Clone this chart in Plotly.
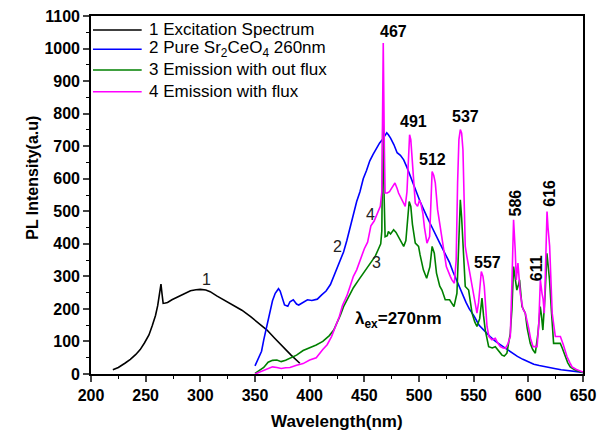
import plotly.graph_objects as go

# ---- data ----
# 1 Excitation spectrum (black)
x1 = [220, 225, 231, 236, 241, 245, 249, 253, 256, 259, 261, 262.5, 264, 265, 266, 268, 270, 274, 279,
      285, 291, 296, 300, 305, 309, 315, 322, 330, 338, 346, 353, 361, 368, 376, 383, 391]
y1 = [13, 20, 33, 45, 60, 75, 96, 120, 148, 180, 210, 240, 276, 245, 217, 218, 220, 228, 236,
      247, 256, 259, 260, 258, 253, 240, 226, 212, 196, 176, 158, 135, 110, 82, 58, 33]

# 2 Pure Sr2CeO4 260nm (blue)
x2 = [350, 353, 356, 358, 361, 364, 366, 368.5, 371.5, 373, 374.7, 377, 380, 382, 385, 388, 390, 394, 398,
      402, 407, 411, 415, 419, 422, 425, 428, 431, 434, 437, 440, 443, 446, 449, 452, 455, 458, 461, 464,
      466, 468, 470.5, 472, 474, 477, 480, 483, 486, 489, 492, 495, 498, 501, 504, 507, 510, 513, 516, 519,
      522, 525, 528, 531, 534, 537, 540, 543, 546, 550, 555, 560, 565, 570, 575, 580, 585, 590, 595, 600,
      605, 610, 615, 620, 625, 630, 635, 640, 645, 650]
y2 = [25, 45, 70, 105, 150, 200, 225, 248, 262, 255, 235, 212, 208, 222, 228, 215, 212, 220, 228,
      226, 230, 243, 255, 275, 300, 322, 350, 375, 410, 450, 495, 530, 560, 600, 625, 655, 675, 695, 710,
      718, 730, 741, 735, 725, 705, 680, 672, 658, 635, 607, 580, 556, 530, 505, 485, 464, 442, 422, 402,
      382, 362, 342, 315, 290, 265, 240, 220, 200, 180, 150, 132, 115, 100, 88, 76, 65, 54, 45, 38,
      30, 26, 22, 19, 16, 13, 11, 9, 7, 5]

# 3 Emission without flux (green)
x3 = [350, 354, 358, 362, 366, 370, 374, 378, 382, 388, 394, 400, 406, 412, 418, 422, 425, 428, 431, 435,
      440, 445, 450, 455, 460, 463, 465, 466, 467, 468, 469, 471, 472, 474, 476.8, 479, 482, 486, 488, 489,
      491, 492.5, 494, 496.6, 499.6, 501, 504, 507, 510, 512, 514, 516, 519, 521, 524, 528, 530, 532, 534.7,
      536, 537.8, 539, 540.2, 542.3, 545.4, 548.5, 551, 553, 555.5, 557.6, 559, 560.6, 563.7, 567, 569.8,
      573, 575.9, 578, 580.4, 583.5, 585, 586.5, 588, 589.5, 591, 592, 594.2, 597.2, 599, 601.8, 604, 606.4,
      608.8, 610.9, 612, 613.3, 615.4, 617, 618.5, 619.4, 621, 623.1, 626, 629.2, 631, 633.8, 636, 638.3,
      642, 647.4, 650]
y3 = [2, 10, 20, 36, 42, 43, 38, 42, 48, 58, 72, 80, 89, 100, 118, 135, 155, 180, 207, 235,
      265, 290, 315, 340, 362, 385, 400, 440, 797, 560, 422, 425, 438, 430, 443, 435, 415, 392, 410, 453,
      530, 515, 460, 402, 392, 366, 320, 294, 330, 392, 371, 310, 270, 258, 228, 228, 215, 207, 248,
      400, 535, 480, 412, 269, 258, 187, 160, 146, 170, 233, 180, 135, 84, 80, 84,
      70, 58, 55, 64, 125, 200, 330, 290, 258, 275, 289, 207, 187, 140, 94, 75, 64,
      125, 207, 180, 135, 248, 371, 320, 289, 200, 94, 94, 94, 80, 53, 35, 22,
      14, 7, 5]

# 4 Emission with flux (magenta)
x4 = [350, 354, 358, 362, 366, 370, 374, 378, 382, 388, 394, 400, 406, 412, 416, 420, 424, 427, 430, 434,
      437, 440, 443, 446, 450, 453, 456, 459, 462, 464.6, 466, 467.3, 468.3, 469, 471, 473, 475, 478, 480,
      481.3, 484.4, 487.4, 489, 490.5, 491.4, 492.5, 494.4, 496.6, 498.7, 500.5, 502, 503.5, 505, 507.3,
      509.7, 511, 512, 513.5, 514.9, 517, 519, 521, 523, 525, 528.6, 530, 532.3, 534, 535.3, 536.5, 537.8,
      539, 540.2, 541.5, 542.3, 543.8, 546.3, 549.9, 553, 554.5, 555.5, 557, 558.5, 559.7, 562.2, 564,
      566.7, 569.8, 572, 574.4, 577, 579, 581, 583.5, 585, 586.5, 588, 589, 590.5, 591.5, 592.6, 595, 597.2,
      600.3, 602, 604.3, 608, 609.5, 611, 612.5, 613.5, 614.6, 616, 617.1, 618, 619.5, 621.8, 624.7, 627,
      629.3, 632, 635.4, 638, 640, 644, 649, 650]
y4 = [0, 5, 10, 17, 22, 20, 17, 19, 20, 27, 32, 43, 50, 75, 90, 115, 146, 175, 210, 240,
      270, 300, 320, 350, 385, 405, 455, 470, 494, 515, 560, 1017, 700, 556, 556, 560, 571, 587, 570,
      556, 535, 515, 560, 680, 735, 720, 638, 525, 515, 535, 520, 494, 450, 402,
      422, 560, 622, 610, 587, 505, 460, 422, 370, 330, 300, 290, 279, 350, 587, 720, 751,
      740, 689, 500, 392, 361, 310, 248, 187, 220, 269, 315, 300, 269, 146, 115,
      105, 110, 95, 84, 80, 79, 90, 115, 280, 474, 380, 289, 341, 300, 248, 200, 187,
      141, 110, 84, 84, 150, 289, 248, 230, 187, 350, 499, 450, 392, 187, 115, 115,
      115, 90, 53, 35, 22, 14, 7, 6]

series_names = ["1 Excitation Spectrum", "2 Pure Sr<sub>2</sub>CeO<sub>4</sub> 260nm",
                "3 Emission with out flux", "4 Emission with flux"]
series_colors = ["#000000", "#0000ff", "#008000", "#ff00ff"]

peak_labels = ["467", "491", "512", "537", "557", "586", "611", "616"]
peak_x = [476.8, 495.1, 511.9, 542.4, 562.2, 588.1, 607.0, 618.6]
peak_y = [1053, 776, 658, 790, 342, 525, 325, 556]
peak_rot = [0, 0, 0, 0, 0, -90, -90, -90]

curve_labels = ["1", "2", "3", "4"]
curve_lx = [305.5, 425, 461, 456]
curve_ly = [291, 392, 342, 489]

x_ticks = [200, 250, 300, 350, 400, 450, 500, 550, 600, 650]
y_ticks = [0, 100, 200, 300, 400, 500, 600, 700, 800, 900, 1000, 1100]

FONT = "Liberation Sans, Arial, sans-serif"

fig = go.Figure()
for xs, ys, nm, col in zip([x1, x2, x3, x4], [y1, y2, y3, y4], series_names, series_colors):
    fig.add_trace(go.Scatter(x=xs, y=ys, mode="lines", name=nm, showlegend=False,
                             line=dict(color=col, width=1.6)))

ann = []
shapes = []
# legend (key lines + text in the upper-left corner of the plot)
leg_rows = [0.9610, 0.9070, 0.8492, 0.7886]
for nm, col, ry in zip(series_names, series_colors, leg_rows):
    shapes.append(dict(type="line", xref="paper", yref="paper", x0=0.004, x1=0.103, y0=ry, y1=ry,
                       line=dict(color=col, width=1.6)))
    ann.append(dict(x=0.113, y=ry, xref="paper", yref="paper", xanchor="left", yanchor="middle",
                    text=nm, showarrow=False, font=dict(family=FONT, size=17, color="black")))

for t, px, py, r in zip(peak_labels, peak_x, peak_y, peak_rot):
    ann.append(dict(x=px, y=py, xref="x", yref="y", text="<b>%s</b>" % t, showarrow=False,
                    textangle=r, font=dict(family=FONT, size=16, color="black")))
for t, px, py in zip(curve_labels, curve_lx, curve_ly):
    ann.append(dict(x=px, y=py, xref="x", yref="y", text=t, showarrow=False,
                    font=dict(family=FONT, size=16, color="#222222")))
ann.append(dict(x=481.4, y=166, xref="x", yref="y", text="<b>λ<sub>ex</sub>=270nm</b>",
                showarrow=False, font=dict(family=FONT, size=17, color="black")))
ann.append(dict(x=-0.14, y=0.547, xref="paper", yref="paper", text="<b>PL Intensity(a.u)</b>",
                textangle=-90, showarrow=False, font=dict(family=FONT, size=16, color="black")))
ann.append(dict(x=0.5, y=-0.132, xref="paper", yref="paper", yanchor="middle",
                text="<b>Wavelength(nm)</b>", showarrow=False,
                font=dict(family=FONT, size=17, color="black")))

fig.update_layout(
    width=597, height=436,
    margin=dict(l=91, r=14, t=16, b=62, autoexpand=False),
    paper_bgcolor="white", plot_bgcolor="white",
    font=dict(family=FONT, color="black"),
    annotations=ann,
    shapes=shapes,
    showlegend=False,
)
fig.update_xaxes(range=[200, 650], tickvals=x_ticks, ticks="outside", ticklen=6, tickwidth=1.5,
                 showline=True, linewidth=1.6, linecolor="black", mirror=True, showgrid=False,
                 zeroline=False, automargin=False,
                 tickfont=dict(family=FONT, size=16, color="black"),
                 ticktext=["<b>%d</b>" % v for v in x_ticks],
                 minor=dict(dtick=25, ticks="outside", ticklen=3, tickwidth=1.2, tickcolor="black"))
fig.update_yaxes(range=[0, 1100], tickvals=y_ticks, ticks="outside", ticklen=6, tickwidth=1.5,
                 showline=True, linewidth=1.6, linecolor="black", mirror=True, showgrid=False,
                 zeroline=False, automargin=False,
                 tickfont=dict(family=FONT, size=16, color="black"),
                 ticktext=["<b>%d</b>" % v for v in y_ticks],
                 minor=dict(dtick=50, ticks="outside", ticklen=3, tickwidth=1.2, tickcolor="black"))

# remove the default 8px page margin so the figure fills the 597x436 window exactly
fig.write_html("out.html", config={"displayModeBar": False},
               post_script="document.body.style.margin='0';")
